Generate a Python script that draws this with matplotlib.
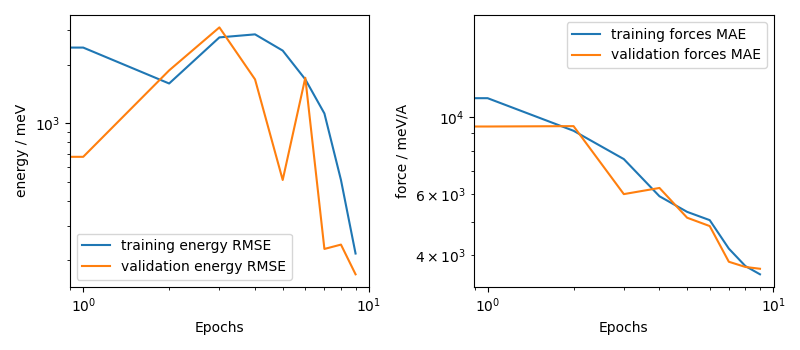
import matplotlib
matplotlib.use("Agg")
import matplotlib.pyplot as plt

# epoch 0 is clipped by the log x-axis, as in the original training plot
epochs = [0, 1, 2, 3, 4, 5, 6, 7, 8, 9]

train_energy_rmse = [2900, 2440, 1600, 2750, 2850, 2355, 1680, 1125, 515, 217]
val_energy_rmse   = [1500, 676, 1866, 3093, 1679, 515, 1711, 229, 241, 170]

train_forces_mae = [18140, 11340, 9134, 7570, 5915, 5333, 5048, 4179, 3722, 3524]
val_forces_mae   = [12000, 9397, 9420, 6000, 6250, 5130, 4853, 3830, 3700, 3656]

fig, (ax1, ax2) = plt.subplots(1, 2, figsize=(8, 3.5), dpi=100)
fig.subplots_adjust(left=0.087, right=0.967, top=0.957, bottom=0.181, wspace=0.35)

ax1.loglog(epochs, train_energy_rmse, label="training energy RMSE")
ax1.loglog(epochs, val_energy_rmse, label="validation energy RMSE")
ax1.set_xlabel("Epochs")
ax1.set_ylabel("energy / meV")
ax1.legend(loc="lower left")

ax2.loglog(epochs, train_forces_mae, label="training forces MAE")
ax2.loglog(epochs, val_forces_mae, label="validation forces MAE")
ax2.set_xlabel("Epochs")
ax2.set_ylabel("force / meV/A")
ax2.legend(loc="upper right")

fig.savefig("out.png", dpi=100)
